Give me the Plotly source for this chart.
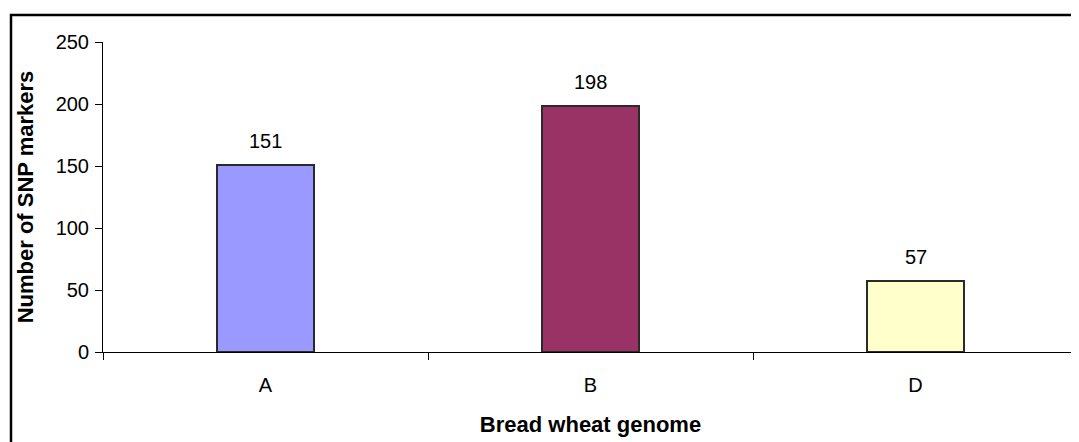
import plotly.graph_objects as go

categories = ["A", "B", "D"]
values = [151, 198, 57]
colors = ["#9999FF", "#993366", "#FFFFCC"]
y_ticks = [0, 50, 100, 150, 200, 250]

# page body has an 8px margin; compensate so the plot sits where the reference does
W, H = 1071, 434
L, R, T, B = 95, 1, 34, 90
pw, ph = W - L - R, H - T - B

FONT = "Liberation Sans, Arial"

fig = go.Figure(go.Bar(
    x=categories, y=values,
    marker=dict(color=colors, line=dict(color="#2a2a2a", width=2)),
    width=0.3,
    hoverinfo="x+y",
))

for c, v in zip(categories, values):
    fig.add_annotation(x=c, y=v, text=str(v), showarrow=False,
                       yanchor="bottom", yshift=11,
                       font=dict(family=FONT, size=20, color="#000000"))

fig.update_layout(
    width=W, height=H,
    margin=dict(l=L, r=R, t=T, b=B),
    paper_bgcolor="white", plot_bgcolor="white",
    font=dict(family=FONT, size=20, color="#000000"),
    showlegend=False,
    bargap=0,
)
fig.update_xaxes(
    range=[-0.5, 2.5], tickson="boundaries", ticks="outside", ticklen=7,
    tickcolor="#000000", showline=True, linecolor="#000000", linewidth=1,
    showgrid=False, tickfont=dict(size=20), ticklabelstandoff=15,
    title=dict(text="<b>Bread wheat genome</b>", font=dict(size=22), standoff=21),
)
fig.update_yaxes(
    range=[0, 250], tickvals=y_ticks, ticks="outside", ticklen=7,
    tickcolor="#000000", showline=True, linecolor="#000000", linewidth=1,
    showgrid=False, zeroline=False, tickfont=dict(size=20), ticklabelstandoff=2,
    title=dict(text="<b>Number of SNP markers</b>", font=dict(size=22), standoff=15),
)

# outer chart frame (extends beyond right/bottom edges as in reference)
fig.add_shape(type="rect", xref="paper", yref="paper",
              x0=(3 - L) / pw, x1=(W + 20 - L) / pw,
              y0=-(B + 20) / ph, y1=(H - 7 - B) / ph,
              line=dict(color="#000000", width=2.5), fillcolor="rgba(0,0,0,0)", layer="below")

fig.write_html("out.html")
